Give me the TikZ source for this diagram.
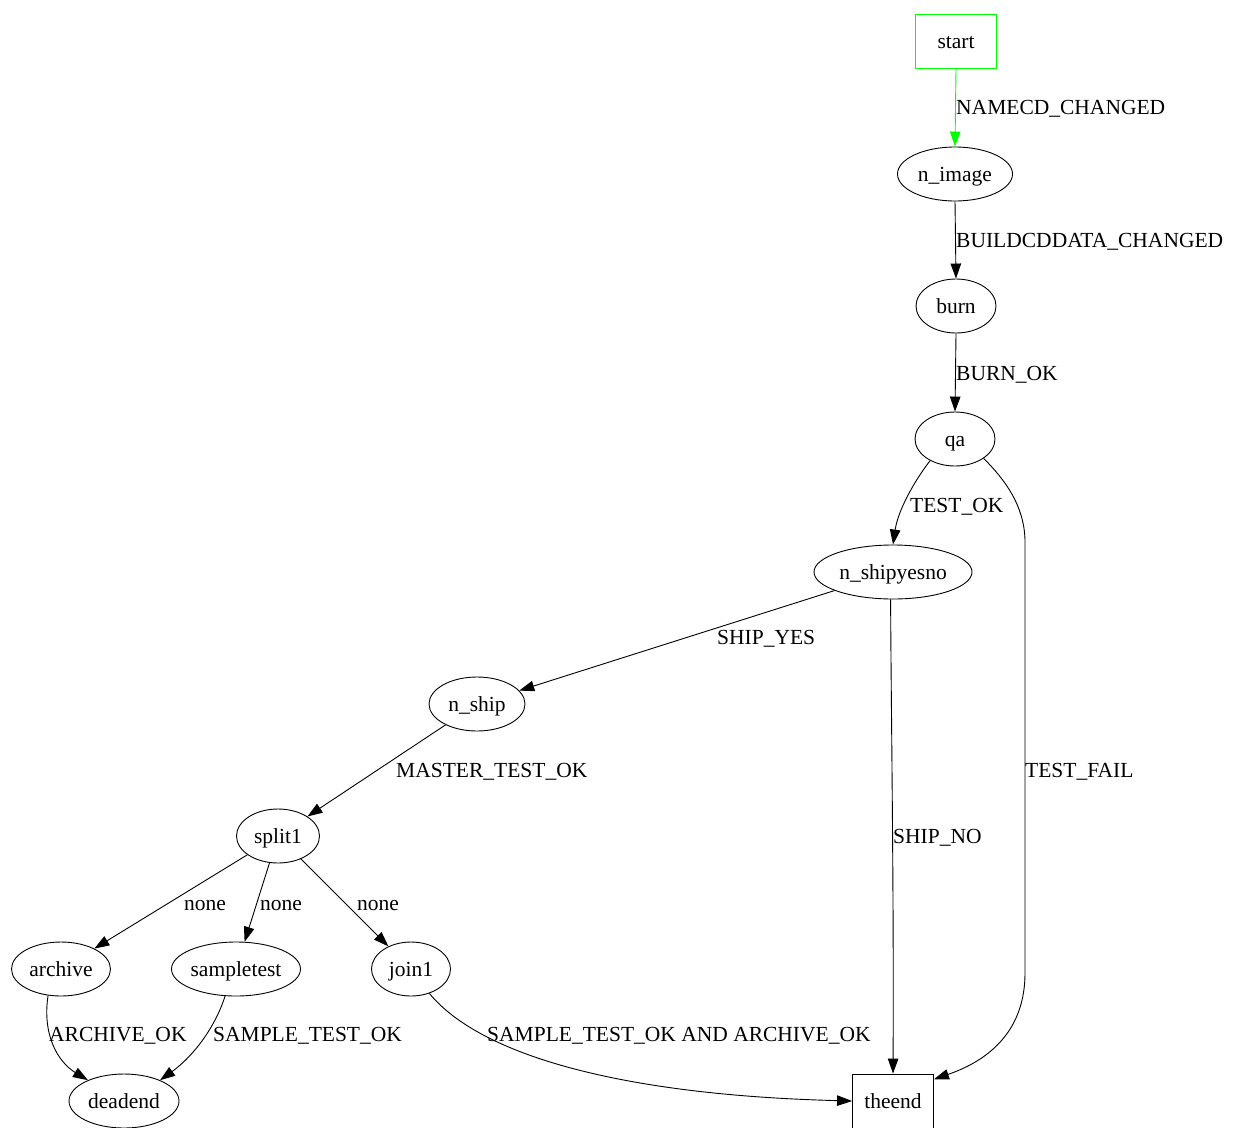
\documentclass[tikz,border=0pt]{standalone}
\usepackage{fontspec}
\setmainfont{Liberation Serif}
\usetikzlibrary{shapes.geometric,arrows.meta}
\definecolor{gvgreen}{RGB}{0,255,0}
\begin{document}
\begin{tikzpicture}[x=1pt,y=-1pt,
  every node/.style={font=\fontsize{21.5}{24}\selectfont, text height=15.5pt, text depth=0pt},
  st/.style={draw, ellipse, inner sep=0pt, minimum height=54pt, line width=0.9pt},
  bx/.style={draw, rectangle, minimum width=81pt, minimum height=54pt, inner sep=0pt, line width=0.9pt},
  ed/.style={draw, line width=0.9pt, -{Triangle[length=15pt,width=10.5pt]}},
  lb/.style={anchor=west, inner sep=0pt}
]
\useasboundingbox (0,0) rectangle (1238,1127);
\fill[white] (0,0) rectangle (1238,1127);

% nodes
\node[bx, draw=gvgreen] (start) at (956,41) {start};
\node[st, minimum width=115pt] (nimage) at (955,174) {n\_image};
\node[st, minimum width=80pt] (burn) at (956,306) {burn};
\node[st, minimum width=80pt] (qa) at (955,439) {qa};
\node[st, minimum width=158pt] (nshipyesno) at (893,572) {n\_shipyesno};
\node[st, minimum width=96pt] (nship) at (477,704) {n\_ship};
\node[st, minimum width=83pt] (split1) at (278,836) {split1};
\node[st, minimum width=99pt] (archive) at (61,969) {archive};
\node[st, minimum width=129pt] (sampletest) at (236,969) {sampletest};
\node[st, minimum width=79pt] (join1) at (411,969) {join1};
\node[st, minimum width=110pt] (deadend) at (124,1101) {deadend};
\node[bx] (theend) at (893,1101) {theend};

% edges
\draw[ed, gvgreen] (start.south) -- (nimage.north);
\draw[ed] (nimage.south) -- (burn.north);
\draw[ed] (burn.south) -- (qa.north);
\draw[ed] (qa.-139) .. controls (915,480) and (898,510) .. (nshipyesno.north);
\draw[ed] (qa.-34) .. controls (1005,480) and (1024,505) .. (1025,540)
   -- (1025,973) .. controls (1025,1030) and (990,1060) .. (theend.28);
\draw[ed] (nshipyesno) -- (nship);
\draw[ed] (nshipyesno.-95) .. controls (891,700) and (894,900) .. (theend.north);
\draw[ed] (nship) -- (split1);
\draw[ed] (split1) -- (archive);
\draw[ed] (split1) -- (sampletest);
\draw[ed] (split1) -- (join1);
\draw[ed] (archive.-116) .. controls (42,1035) and (58,1062) .. (deadend.150);
\draw[ed] (sampletest.-112) .. controls (216,1025) and (195,1055) .. (deadend.30);
\draw[ed] (join1.-53) .. controls (480,1055) and (620,1095) .. (theend.west);

% labels
\node[lb] (l1) at (956,107) {NAMECD\_CHANGED};
\node[lb] (l2) at (956,240) {BUILDCDDATA\_CHANGED};
\node[lb] (l3) at (956,373) {BURN\_OK};
\node[lb] (l4) at (910,505) {TEST\_OK};
\node[lb] (l5) at (1025,770) {TEST\_FAIL};
\node[lb] (l6) at (717,637) {SHIP\_YES};
\node[lb] (l7) at (893,836) {SHIP\_NO};
\node[lb] (l8) at (396,770) {MASTER\_TEST\_OK};
\node[lb] (l9) at (184,903) {none};
\node[lb] (l10) at (260,903) {none};
\node[lb] (l11) at (357,903) {none};
\node[lb] (l12) at (49,1034) {ARCHIVE\_OK};
\node[lb] (l13) at (213,1034) {SAMPLE\_TEST\_OK};
\node[lb] (l14) at (487,1034) {SAMPLE\_TEST\_OK AND ARCHIVE\_OK};
\end{tikzpicture}
\end{document}
